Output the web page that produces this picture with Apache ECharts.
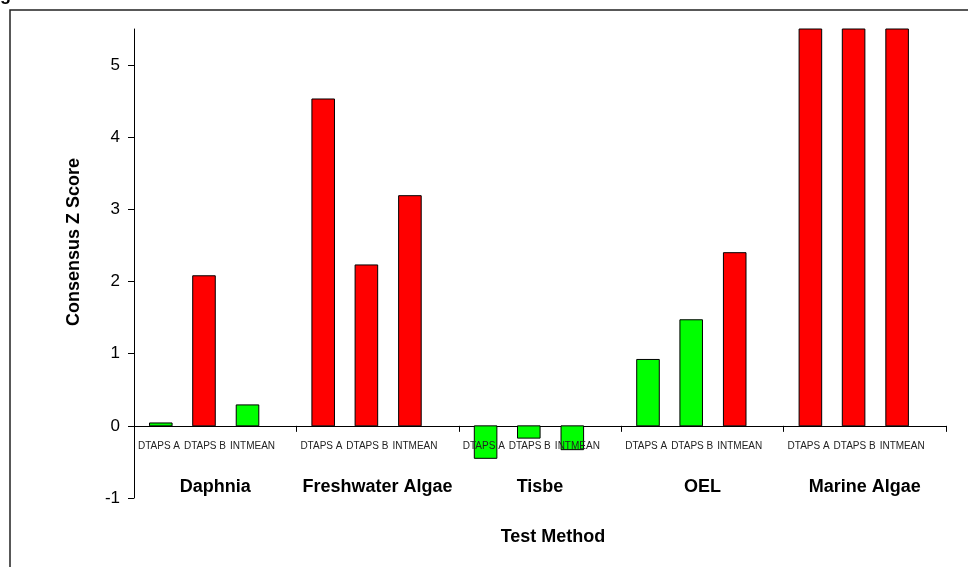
<!DOCTYPE html>
<html>
<head>
<meta charset="utf-8">
<script src="https://cdn.jsdelivr.net/npm/echarts@6/dist/echarts.min.js"></script>
<style>
html,body{margin:0;padding:0;background:#fff;}
#chart{width:968px;height:567px;}
</style>
</head>
<body>
<div id="chart"></div>
<script>
// ---- data ----
const testMethods = ['Daphnia', 'Freshwater Algae', 'Tisbe', 'OEL', 'Marine Algae'];
const subLabels = ['DTAPS A', 'DTAPS B', 'INTMEAN'];
const dtapsA = [0.04, 4.53, -0.45, 0.92, 7.4];
const dtapsB = [2.08, 2.23, -0.17, 1.47, 6.9];
const intMean = [0.29, 3.19, -0.33, 2.40, 8.2];
const yTicks = [-1, 0, 1, 2, 3, 4, 5];

const FONT = "Arial, 'Liberation Sans', sans-serif";
const BAR_POS = [0.165, 0.431, 0.699];
const LABEL_POS = [0.154, 0.437, 0.730];
const BAR_W = 0.139;

function renderItem(params, api) {
  const sub = params.seriesIndex;
  const i = api.value(0);
  const v = api.value(1);
  const c0 = api.coord([i, 0]);
  const c1 = api.coord([i, v]);
  const band = api.size([1, 0])[0];
  const start = c0[0] - band / 2;
  const cx = start + band * BAR_POS[sub];
  const w = band * BAR_W;
  const cs = params.coordSys;
  const y1 = Math.max(cs.y, Math.min(cs.y + cs.height, c1[1]));
  const top = Math.min(c0[1], y1);
  const h = Math.abs(c0[1] - y1);
  return {
    type: 'group',
    children: [
      {
        type: 'rect',
        shape: { x: cx - w / 2, y: top, width: w, height: h },
        style: { fill: Math.abs(v) >= 2 ? '#FF0000' : '#00FF00', stroke: '#000', lineWidth: 1 }
      },
      {
        type: 'text',
        z2: 10,
        style: {
          text: subLabels[sub],
          x: start + band * LABEL_POS[sub],
          y: c0[1] + 20,
          align: 'center',
          verticalAlign: 'middle',
          fill: '#222',
          font: '10px ' + FONT
        }
      }
    ]
  };
}

function toData(arr) { return arr.map((v, i) => [i, v]); }

const chart = echarts.init(document.getElementById('chart'), null, { renderer: 'canvas' });
chart.setOption({
  animation: false,
  backgroundColor: '#fff',
  grid: { left: 134, right: 22, top: 29, bottom: 69, containLabel: false },
  xAxis: {
    type: 'category',
    data: testMethods,
    boundaryGap: true,
    axisLine: { show: true, onZero: true, lineStyle: { color: '#000', width: 1 } },
    axisTick: { show: true, length: 6, interval: 0, lineStyle: { color: '#000' } },
    axisLabel: { interval: 0, margin: -20, color: '#000', fontFamily: FONT, fontSize: 18, fontWeight: 'bold' },
    splitLine: { show: false }
  },
  yAxis: {
    type: 'value',
    min: -1,
    max: 5.5,
    interval: 1,
    axisLine: { show: true, lineStyle: { color: '#000', width: 1 } },
    axisTick: { show: true, length: 6, customValues: yTicks, lineStyle: { color: '#000' } },
    axisLabel: { margin: 14, color: '#000', fontFamily: FONT, fontSize: 17, customValues: yTicks },
    splitLine: { show: false }
  },
  series: [
    { type: 'custom', name: subLabels[0], renderItem, encode: { x: 0, y: 1 }, data: toData(dtapsA) },
    { type: 'custom', name: subLabels[1], renderItem, encode: { x: 0, y: 1 }, data: toData(dtapsB) },
    { type: 'custom', name: subLabels[2], renderItem, encode: { x: 0, y: 1 }, data: toData(intMean) }
  ],
  graphic: [
    {
      type: 'rect', silent: true,
      shape: { x: 10, y: 10, width: 1000, height: 700 },
      style: { fill: 'none', stroke: '#222', lineWidth: 1.5 }
    },
    {
      type: 'text', left: 0, top: -14,
      style: { text: 'g', font: 'bold 18px ' + FONT, fill: '#000' }
    },
    {
      type: 'text', x: 74, y: 242, rotation: Math.PI / 2,
      style: { text: 'Consensus Z Score', align: 'center', verticalAlign: 'middle', font: 'bold 18px ' + FONT, fill: '#000' }
    },
    {
      type: 'text', x: 553, y: 537,
      style: { text: 'Test Method', align: 'center', verticalAlign: 'middle', font: 'bold 18px ' + FONT, fill: '#000' }
    }
  ]
});
</script>
</body>
</html>
